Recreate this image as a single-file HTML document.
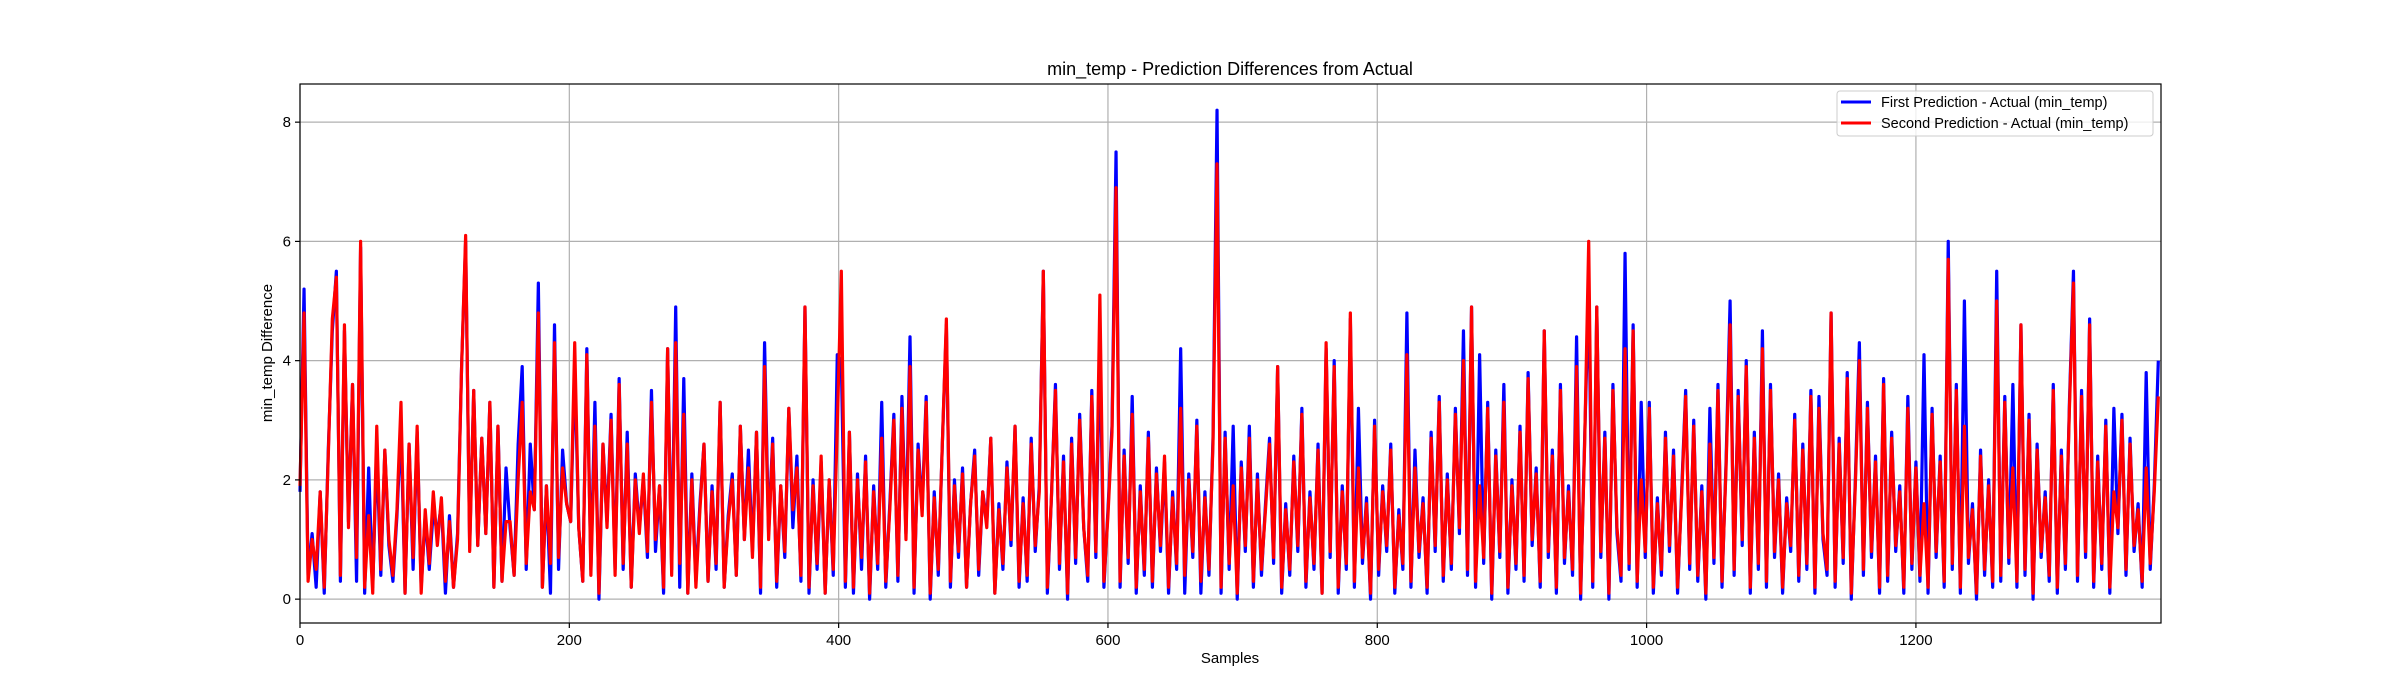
<!DOCTYPE html>
<html><head><meta charset="utf-8"><style>
html,body{margin:0;padding:0;background:#fff;}
svg{display:block;font-family:"Liberation Sans","DejaVu Sans",sans-serif;}
</style></head><body>
<svg id="chart" width="2400" height="700" viewBox="0 0 2400 700">
<rect x="0" y="0" width="2400" height="700" fill="#fff"/>
<text x="1230" y="75" font-size="18" text-anchor="middle" fill="#000">min_temp - Prediction Differences from Actual</text>
<g id="grid"></g>
<g id="plot"></g>
<rect x="300" y="84" width="1861" height="539" fill="none" stroke="#000" stroke-width="1.2"/>
<g id="xticks"></g>
<g id="yticks"></g>
<text x="1230" y="663" font-size="15" text-anchor="middle">Samples</text>
<text transform="translate(272,353) rotate(-90)" font-size="15" text-anchor="middle">min_temp Difference</text>
<g>
<rect x="1837" y="91" width="316" height="45" rx="3" fill="#fff" fill-opacity="0.8" stroke="#ccc" stroke-width="1"/>
<g>
<line x1="1841" y1="102" x2="1871" y2="102" stroke="#0000ff" stroke-width="3"/>
<text x="1881" y="107" font-size="14.5">First Prediction - Actual (min_temp)</text></g>
<g>
<line x1="1841" y1="123" x2="1871" y2="123" stroke="#ff0000" stroke-width="3"/>
<text x="1881" y="128" font-size="14.5">Second Prediction - Actual (min_temp)</text></g>
</g>
</svg>
<script>
const sampleStep = 3;
const xTicks = [0,200,400,600,800,1000,1200];
const yTicks = [0,2,4,6,8];
const firstDiff = [
1.8,5.2,0.4,1.1,0.2,1.8,0.1,2.5,4.5,5.5,0.3,4.5,1.3,3.6,0.3,5.9,0.1,2.2,0.2,2.5,
0.4,2.5,0.9,0.3,1.4,2.9,0.1,2.6,0.5,2.8,0.2,1.4,0.5,1.5,1.1,1.6,0.1,1.4,0.2,1.1,
3.9,6.0,0.9,3.5,0.9,2.7,1.1,3.3,0.2,2.9,0.3,2.2,1.2,0.4,2.6,3.9,0.5,2.6,1.5,5.3,
0.2,1.9,0.1,4.6,0.5,2.5,1.6,1.3,3.9,1.2,0.3,4.2,0.5,3.3,0.0,2.6,1.3,3.1,0.5,3.7,
0.5,2.8,0.2,2.1,1.2,2.0,0.7,3.5,0.8,1.9,0.1,4.2,0.5,4.9,0.2,3.7,0.1,2.1,0.3,1.6,
2.6,0.3,1.9,0.5,3.3,0.2,1.4,2.1,0.4,2.9,1.0,2.5,0.8,2.8,0.1,4.3,1.1,2.7,0.2,1.9,
0.7,3.2,1.2,2.4,0.3,4.9,0.1,2.0,0.5,2.3,0.1,2.0,0.4,4.1,4.0,0.2,2.8,0.1,2.1,0.5,
2.4,0.0,1.9,0.5,3.3,0.2,1.6,3.1,0.3,3.4,1.1,4.4,0.1,2.6,1.5,3.4,0.0,1.8,0.4,2.6,
4.6,0.2,2.0,0.7,2.2,0.2,1.6,2.5,0.4,1.8,1.3,2.7,0.1,1.6,0.5,2.3,0.9,2.9,0.2,1.7,
0.3,2.7,0.8,1.9,5.5,0.1,1.7,3.6,0.5,2.4,0.0,2.7,0.6,3.1,1.2,0.3,3.5,0.7,4.4,0.2,
1.5,2.9,7.5,0.2,2.5,0.6,3.4,0.1,1.9,0.4,2.8,0.2,2.2,0.8,2.3,0.1,1.8,0.5,4.2,0.1,
2.1,0.7,3.0,0.1,1.8,0.4,2.7,8.2,0.1,2.8,0.5,2.9,0.0,2.3,0.8,2.9,0.2,2.1,0.4,1.6,
2.7,0.6,3.9,0.1,1.6,0.4,2.4,0.8,3.2,0.2,1.8,0.5,2.6,0.1,4.2,0.7,4.0,0.1,1.9,0.5,
4.7,0.2,3.2,0.6,1.7,0.0,3.0,0.4,1.9,0.8,2.6,0.1,1.5,0.5,4.8,0.2,2.5,0.7,1.7,0.1,
2.8,0.8,3.4,0.3,2.1,0.5,3.2,1.1,4.5,0.4,4.9,0.2,4.1,0.6,3.3,0.0,2.5,0.7,3.6,0.1,
2.0,0.5,2.9,0.3,3.8,0.9,2.2,0.2,4.5,0.7,2.5,0.1,3.6,0.6,1.9,0.4,4.4,0.0,2.7,5.2,
0.2,4.9,0.7,2.8,0.0,3.6,1.1,0.3,5.8,0.5,4.6,0.2,3.3,0.7,3.3,0.1,1.7,0.4,2.8,0.8,
2.5,0.1,1.8,3.5,0.5,3.0,0.3,1.9,0.0,3.2,0.6,3.6,0.2,2.3,5.0,0.4,3.5,0.9,4.0,0.1,
2.8,0.5,4.5,0.2,3.6,0.7,2.1,0.1,1.7,0.8,3.1,0.3,2.6,0.5,3.5,0.1,3.4,1.0,0.4,4.8,
0.2,2.7,0.6,3.8,0.0,2.0,4.3,0.4,3.3,0.7,2.4,0.1,3.7,0.3,2.8,0.8,1.9,0.1,3.4,0.5,
2.3,0.3,4.1,0.1,3.2,0.7,2.4,0.2,6.0,0.5,3.6,0.1,5.0,0.6,1.6,0.0,2.5,0.4,2.0,0.2,
5.5,0.3,3.4,0.6,3.6,0.2,4.6,0.4,3.1,0.0,2.6,0.7,1.8,0.3,3.6,0.1,2.5,0.5,3.3,5.5,
0.3,3.5,0.7,4.7,0.2,2.4,0.5,3.0,0.1,3.2,1.1,3.1,0.4,2.7,0.8,1.6,0.2,3.8,0.5,1.9,
4.0];
const secondDiff = [
1.9,4.8,0.3,1.0,0.5,1.8,0.2,2.4,4.7,5.4,0.4,4.6,1.2,3.6,0.7,6.0,0.2,1.4,0.1,2.9,
0.5,2.5,1.0,0.4,1.5,3.3,0.1,2.6,0.7,2.9,0.1,1.5,0.6,1.8,0.9,1.7,0.3,1.3,0.2,1.0,
3.9,6.1,0.8,3.5,0.9,2.7,1.1,3.3,0.2,2.9,0.3,1.3,1.3,0.4,2.0,3.3,0.6,1.8,1.5,4.8,
0.2,1.9,0.6,4.3,0.7,2.2,1.6,1.3,4.3,1.2,0.3,4.1,0.4,2.9,0.1,2.6,1.2,3.0,0.4,3.6,
0.6,2.6,0.2,2.0,1.1,2.1,0.8,3.3,1.0,1.9,0.2,4.2,0.4,4.3,0.6,3.1,0.1,2.0,0.2,1.5,
2.6,0.3,1.8,0.6,3.3,0.2,1.3,2.0,0.4,2.9,1.0,2.2,0.7,2.8,0.2,3.9,1.0,2.6,0.3,1.9,
0.8,3.2,1.5,2.2,0.4,4.9,0.2,1.9,0.6,2.4,0.1,2.0,0.5,2.9,5.5,0.3,2.8,0.2,2.0,0.7,
2.3,0.1,1.8,0.6,2.7,0.3,1.5,3.0,0.4,3.2,1.0,3.9,0.2,2.5,1.4,3.3,0.1,1.7,0.5,2.6,
4.7,0.3,1.9,0.8,2.1,0.2,1.6,2.4,0.5,1.8,1.2,2.7,0.1,1.5,0.6,2.2,1.0,2.9,0.3,1.6,
0.4,2.6,0.9,1.8,5.5,0.2,1.7,3.5,0.6,2.3,0.1,2.6,0.7,3.0,1.2,0.4,3.4,0.8,5.1,0.3,
1.4,2.8,6.9,0.3,2.4,0.7,3.1,0.2,1.8,0.5,2.7,0.3,2.1,0.9,2.4,0.2,1.7,0.6,3.2,0.4,
2.0,0.8,2.9,0.3,1.7,0.5,2.6,7.3,0.2,2.7,0.6,1.9,0.1,2.2,0.9,2.7,0.3,2.0,0.5,1.5,
2.6,0.7,3.9,0.2,1.5,0.5,2.3,0.9,3.1,0.3,1.7,0.6,2.5,0.1,4.3,0.8,3.9,0.2,1.8,0.6,
4.8,0.3,2.2,0.7,1.6,0.1,2.9,0.5,1.8,0.9,2.5,0.2,1.4,0.6,4.1,0.3,2.2,0.8,1.6,0.2,
2.7,0.9,3.3,0.4,2.0,0.6,3.1,1.2,4.0,0.5,4.9,0.3,1.9,0.7,3.2,0.1,2.4,0.8,3.3,0.2,
1.9,0.6,2.8,0.4,3.7,1.0,2.1,0.3,4.5,0.8,2.4,0.2,3.5,0.7,1.8,0.5,3.9,0.1,2.6,6.0,
0.3,4.9,0.8,2.7,0.1,3.5,1.2,0.4,4.2,0.6,4.5,0.3,2.0,0.8,3.2,0.2,1.6,0.5,2.7,0.9,
2.4,0.2,1.7,3.4,0.6,2.9,0.4,1.8,0.1,2.6,0.7,3.5,0.3,2.2,4.6,0.5,3.4,1.0,3.9,0.2,
2.7,0.6,4.2,0.3,3.5,0.8,2.0,0.2,1.6,0.9,3.0,0.4,2.5,0.6,3.4,0.2,3.2,1.1,0.5,4.8,
0.3,2.6,0.7,3.7,0.1,1.9,4.0,0.5,3.2,0.8,2.3,0.2,3.6,0.4,2.7,0.9,1.8,0.2,3.2,0.6,
2.2,0.4,1.6,0.2,3.1,0.8,2.3,0.3,5.7,0.6,3.5,0.2,2.9,0.7,1.5,0.1,2.4,0.5,1.9,0.3,
5.0,0.4,3.3,0.7,2.2,0.3,4.6,0.5,3.0,0.1,2.5,0.8,1.7,0.4,3.5,0.2,2.4,0.6,3.2,5.3,
0.4,3.4,0.8,4.6,0.3,2.3,0.6,2.9,0.2,1.8,1.2,3.0,0.5,2.6,0.9,1.5,0.3,2.2,0.6,1.8,
3.4];

const NS='http://www.w3.org/2000/svg';
const L=300,R=2161,T=84,B=623, XMIN=0,XMAX=1382,YMIN=-0.4,YMAX=8.64;
function xs(v){return L+(v-XMIN)/(XMAX-XMIN)*(R-L);}
function ys(v){return B-(v-YMIN)/(YMAX-YMIN)*(B-T);}
function mk(tag,attrs,parent){const e=document.createElementNS(NS,tag);for(const k in attrs)e.setAttribute(k,attrs[k]);parent.appendChild(e);return e;}
const grid=document.getElementById('grid'),xt=document.getElementById('xticks'),yt=document.getElementById('yticks'),plot=document.getElementById('plot');
xTicks.forEach(v=>{
  const x=xs(v);
  const g=mk('line',{x1:x,y1:T,x2:x,y2:B,stroke:'#b0b0b0','stroke-width':1.2},grid);
  
  
  const tk=mk('line',{x1:x,y1:B,x2:x,y2:B+5,stroke:'#000','stroke-width':1.2},xt);
  
  
  const t=mk('text',{x:x,y:B+22,'font-size':15,'text-anchor':'middle'},xt);
  t.textContent=v;
  
  
});
yTicks.forEach(v=>{
  const y=ys(v);
  const g=mk('line',{x1:L,y1:y,x2:R,y2:y,stroke:'#b0b0b0','stroke-width':1.2},grid);
  
  
  const tk=mk('line',{x1:L-5,y1:y,x2:L,y2:y,stroke:'#000','stroke-width':1.2},yt);
  
  
  const t=mk('text',{x:L-9,y:y+5,'font-size':15,'text-anchor':'end'},yt);
  t.textContent=v;
  
  
});
function series(arr,color,name){
  const d=arr.map((v,i)=>(i?'L':'M')+xs(i*sampleStep).toFixed(2)+','+ys(v).toFixed(2)).join('');
  const p=mk('path',{d:d,fill:'none',stroke:color,'stroke-width':3.2,'stroke-linejoin':'round'},plot);
  
  
}
series(firstDiff,'#0000ff','first-prediction-line');
series(secondDiff,'#ff0000','second-prediction-line');
</script>
</body></html>
